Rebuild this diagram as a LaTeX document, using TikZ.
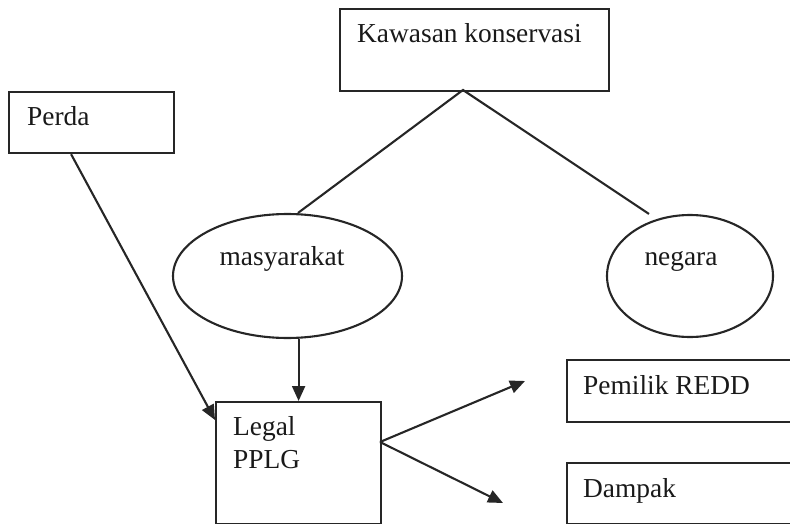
\documentclass[tikz,border=0pt]{standalone}
\usepackage{fontspec}
\setmainfont{Liberation Serif}
\usetikzlibrary{shapes.geometric,arrows.meta}

\tikzset{
  box/.style={draw=black!85, line width=2.2pt, anchor=north west, inner sep=0pt},
  oval/.style={draw=black!85, line width=2.1pt, ellipse, inner sep=0pt},
  txt/.style={anchor=base west, inner sep=0pt, text=black!90,
              font=\fontsize{27.4}{33}\selectfont},
  ctxt/.style={txt, anchor=base},
  link/.style={draw=black!85, line width=2.1pt},
  arrow/.style={link, -{Triangle[length=15pt,width=13pt]}}
}

\begin{document}
\begin{tikzpicture}[x=1pt,y=-1pt]
  \useasboundingbox (0,0) rectangle (790,524);
  \clip (0,0) rectangle (790,524);

  % boxes
  \node[box, minimum width=269pt, minimum height=82pt] (kaw) at (339,8) {};
  \node[box, minimum width=165pt, minimum height=61pt] (perda) at (8,91) {};
  \node[box, minimum width=165pt, minimum height=122pt] (legal) at (215,401) {};
  \node[box, minimum width=260pt, minimum height=62pt] (pemilik) at (566,359) {};
  \node[box, minimum width=260pt, minimum height=61pt] (dampak) at (566,462) {};

  % ellipses
  \node[oval, minimum width=229pt, minimum height=124pt] (mas) at (287.5,276) {};
  \node[oval, minimum width=166pt, minimum height=122pt] (neg) at (690,276) {};

  % labels
  \node[txt] (kawT) at (357,43) {Kawasan konservasi};
  \node[txt] (perdaT) at (27,126) {Perda};
  \node[ctxt] (masT) at (282,265) {masyarakat};
  \node[ctxt] (negT) at (681,265) {negara};
  \node[txt] (legalT) at (233,435) {Legal};
  \node[txt] (pplgT) at (233,468) {PPLG};
  \node[txt] (pemT) at (583,394) {Pemilik REDD};
  \node[txt] (damT) at (583,497) {Dampak};

  % connector points
  \coordinate (apex) at (463,90);
  \coordinate (legalR) at (380,442);
  \coordinate (toPem) at (525,381);
  \coordinate (toDam) at (503,503);

  % tree lines from the conservation area
  \draw[link] ([xshift=10.5pt]mas.north) -- (apex) -- ([xshift=-41pt]neg.north);

  % arrows into Legal PPLG
  \draw[arrow] ([xshift=-20.5pt]perda.south) -- ([yshift=-19pt]legal.north west);
  \draw[arrow] (mas.south -| legal.north) -- (legal.north);

  % arrows out of Legal PPLG
  \draw[arrow] (legalR) -- (toPem);
  \draw[arrow] (legalR) -- (toDam);
\end{tikzpicture}
\end{document}
